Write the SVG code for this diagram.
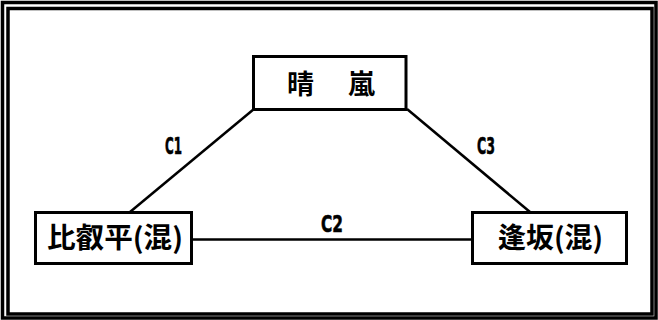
<svg xmlns="http://www.w3.org/2000/svg" width="658" height="320" viewBox="0 0 658 320">
<style>
.frame{fill:none;stroke:#000;stroke-width:3.5}
.box{fill:#fff;stroke:#000;stroke-width:3}
.conn{stroke:#000;stroke-width:2.5;fill:none}
.node{font-family:"Noto Sans CJK JP","Noto Sans CJK SC",sans-serif;font-weight:bold;fill:#000}
.lbl{font-family:"DejaVu Sans","Liberation Sans",sans-serif;font-weight:bold;font-size:23px;fill:#000;stroke:#000;stroke-width:0.6}
</style>
<rect width="658" height="320" fill="#fff"/>
<rect class="frame" x="2.5" y="2.5" width="653.5" height="315.5"/>
<rect class="frame" x="8" y="8.5" width="644" height="305.5"/>
<g id="connectors">
<line class="conn" x1="254" y1="109" x2="130" y2="212"/>
<line class="conn" x1="407" y1="109" x2="530" y2="212"/>
<line class="conn" x1="192" y1="239.5" x2="472" y2="239.5"/>
<text class="lbl" x="165" y="153.5" textLength="17" lengthAdjust="spacingAndGlyphs">C1</text>
<text class="lbl" x="321" y="231.5" textLength="22" lengthAdjust="spacingAndGlyphs">C2</text>
<text class="lbl" x="477" y="154" textLength="18" lengthAdjust="spacingAndGlyphs">C3</text>
</g>
<g id="seiran">
<rect class="box" x="253.5" y="56.5" width="152.5" height="53"/>
<text class="node" font-size="27" x="287" y="94">晴<tspan x="348">嵐</tspan></text>
</g>
<g id="hieidaira">
<rect class="box" x="35.5" y="212.5" width="156" height="51"/>
<text class="node" font-size="28" x="47" y="248" textLength="136" lengthAdjust="spacingAndGlyphs">比叡平(混)</text>
</g>
<g id="ousaka">
<rect class="box" x="472.5" y="212.5" width="154" height="51"/>
<text class="node" font-size="28" x="498" y="248" textLength="105" lengthAdjust="spacingAndGlyphs">逢坂(混)</text>
</g>
</svg>
